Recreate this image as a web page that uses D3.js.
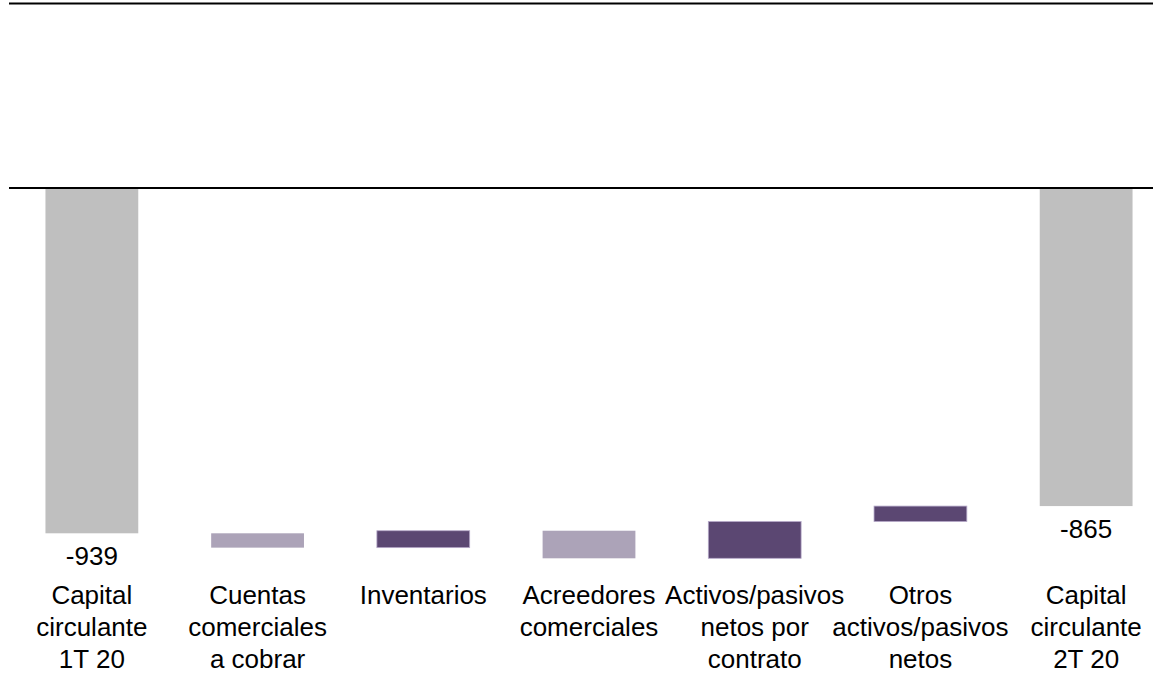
<!DOCTYPE html>
<html>
<head>
<meta charset="utf-8">
<script src="https://cdn.jsdelivr.net/npm/d3@7"></script>
<style>
  body { margin: 0; background: #fff; }
  svg { display: block; font-family: "Liberation Sans", Arial, sans-serif; }
</style>
</head>
<body>
<svg id="chart" width="1153" height="675"></svg>
<script>
// categories and values (millones)
var categories = [
  ["Capital", "circulante", "1T 20"],
  ["Cuentas", "comerciales", "a cobrar"],
  ["Inventarios"],
  ["Acreedores", "comerciales"],
  ["Activos/pasivos", "netos por", "contrato"],
  ["Otros", "activos/pasivos", "netos"],
  ["Capital", "circulante", "2T 20"]
];
var values = [-939, -39, 46, -75, 100, 42, -865];
var isTotal = [true, false, false, false, false, false, true];

var svg = d3.select("svg#chart"),
    width = 1153,
    height = 675;

// running totals for the waterfall
var data = [], run = 0;
values.forEach(function(v, i) {
  var start, end;
  if (isTotal[i]) { start = 0; end = v; run = v; }
  else { start = run; end = run + v; run = end; }
  data.push({ i: i, label: categories[i], value: v, start: start, end: end, total: isTotal[i] });
});

var x = d3.scaleBand()
    .domain(d3.range(categories.length))
    .range([9, 1169])
    .paddingInner(0.44)
    .paddingOuter(0.22);

var y = d3.scaleLinear()
    .domain([0, -939])
    .range([188, 533.3]);

// top frame line and zero line
svg.append("line")
    .attr("x1", 9).attr("x2", width)
    .attr("y1", 3.5).attr("y2", 3.5)
    .attr("stroke", "#000").attr("stroke-width", 2);

svg.selectAll(".bar")
    .data(data)
  .enter().append("rect")
    .attr("class", "bar")
    .attr("x", function(d) { return x(d.i); })
    .attr("width", x.bandwidth())
    .attr("y", function(d) { return y(Math.max(d.start, d.end)); })
    .attr("height", function(d) { return Math.abs(y(d.end) - y(d.start)); })
    .attr("fill", function(d) {
      if (d.total) return "#bfbfbf";
      return d.value > 0 ? "#5b4772" : "#aca3b8";
    })
    .attr("stroke", function(d) { return (!d.total && d.value > 0) ? "#b6a9c9" : "none"; })
    .attr("stroke-width", 0.8);

svg.append("line")
    .attr("x1", 9).attr("x2", width)
    .attr("y1", y(0)).attr("y2", y(0))
    .attr("stroke", "#000").attr("stroke-width", 2);

// value labels on totals
svg.selectAll(".val")
    .data(data.filter(function(d) { return d.total; }))
  .enter().append("text")
    .attr("class", "val")
    .attr("x", function(d) { return x(d.i) + x.bandwidth() / 2; })
    .attr("y", function(d) { return y(d.end) + 32; })
    .attr("text-anchor", "middle")
    .attr("font-size", 26)
    .attr("fill", "#000")
    .text(function(d) { return String(d.value); });

// category labels
var cat = svg.selectAll(".cat")
    .data(data)
  .enter().append("text")
    .attr("class", "cat")
    .attr("text-anchor", "middle")
    .attr("font-size", 26)
    .attr("fill", "#000")
    .attr("transform", function(d) { return "translate(" + (x(d.i) + x.bandwidth() / 2) + ",604)"; });

cat.selectAll("tspan")
    .data(function(d) { return d.label; })
  .enter().append("tspan")
    .attr("x", 0)
    .attr("y", function(d, i) { return i * 32; })
    .text(function(d) { return d; });
</script>
</body>
</html>
